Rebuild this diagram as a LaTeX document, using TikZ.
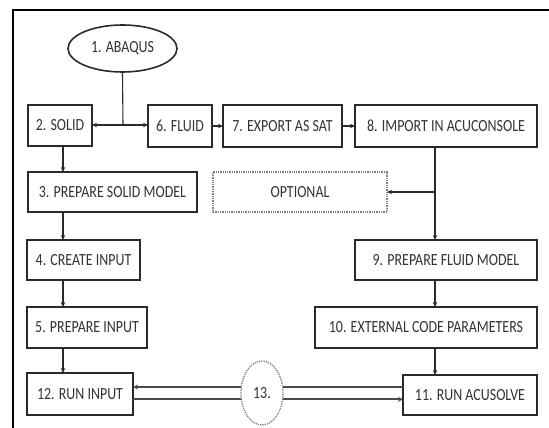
\documentclass[tikz,border=0pt]{standalone}
\usepackage{fontspec}
\setmainfont{Carlito}[FakeStretch=0.82]
\usetikzlibrary{arrows.meta,shapes.geometric}
\definecolor{ink}{HTML}{2A2A2A}
\definecolor{txt}{HTML}{333333}
\tikzset{
  box/.style={draw=ink, line width=1.7pt, rectangle, inner sep=0pt, outer sep=0pt,
    text=txt, font=\fontsize{17}{19}\selectfont},
  optbox/.style={box, draw=gray, line width=1.3pt, densely dotted},
  oval/.style={draw=ink, line width=1.6pt, ellipse, inner sep=0pt, outer sep=0pt,
    text=txt, font=\fontsize{17}{19}\selectfont},
  dotoval/.style={oval, draw=gray, line width=1.3pt, densely dotted},
  conn/.style={draw=ink, line width=1.1pt},
  arr/.style={conn, -{Stealth[length=5pt,width=4.5pt]}},
  dbl/.style={draw=ink!85, line width=1.6pt},
  dblarr/.style={dbl, -{Stealth[length=5pt,width=5pt]}},
}
\begin{document}
\begin{tikzpicture}[x=1pt,y=-1pt]
\useasboundingbox (0,0) rectangle (549,428);
% frame
\draw[black, line width=1.1pt] (13,428) -- (13,10) -- (549,10);

\node[oval, minimum width=109, minimum height=47] (c1) at (122.5,48.5) {1. ABAQUS};

\node[box, minimum width=64, minimum height=41] (b2) at (60,125.5) {2. SOLID};
\node[box, minimum width=64, minimum height=42] (b6) at (180,126) {6. FLUID};
\node[box, minimum width=119, minimum height=42] (b7) at (282.5,126) {7. EXPORT AS SAT};
\node[box, minimum width=182, minimum height=42] (b8) at (446,126) {8. IMPORT IN ACUCONSOLE};

\node[box, minimum width=169, minimum height=40] (b3) at (112.5,192) {3. PREPARE SOLID MODEL};
\node[optbox, minimum width=174, minimum height=40] (opt) at (300,192) {OPTIONAL};

\node[box, minimum width=113, minimum height=40] (b4) at (83.5,260) {4. CREATE INPUT};
\node[box, minimum width=120, minimum height=41] (b5) at (87,327.5) {5. PREPARE INPUT};
\node[box, minimum width=106, minimum height=42] (b12) at (80,394) {12. RUN INPUT};

\node[box, minimum width=182, minimum height=40] (b9) at (446,260) {9. PREPARE FLUID MODEL};
\node[box, minimum width=222, minimum height=41] (b10) at (426,327.5) {10. EXTERNAL CODE PARAMETERS};
\node[box, minimum width=134, minimum height=40] (b11) at (470,395) {11. RUN ACUSOLVE};

\node[dotoval, minimum width=42, minimum height=64] (c13) at (262,393) {13.};

% helper coordinates
\coordinate (j) at (123,125);
\coordinate (lx) at (63,0);
\coordinate (rx) at (435,0);

% top connections
\draw[conn] (c1.south) -- (j);
\draw[arr] (j) -- (j -| b2.east);
\draw[arr] (j) -- (j -| b6.west);
\draw[arr] (b6.east) -- (b7.west);
\draw[arr] (b7.east) -- (b8.west);

% left column
\draw[arr] (b2.south -| lx) -- (b3.north -| lx);
\draw[arr] (b3.south -| lx) -- (b4.north -| lx);
\draw[arr] (b4.south -| lx) -- (b5.north -| lx);
\draw[arr] (b5.south -| lx) -- (b12.north -| lx);

% right column
\draw[arr] (b8.south -| rx) -- (b9.north -| rx);
\draw[arr] (rx |- opt.east) -- (opt.east);
\draw[arr] (b9.south -| rx) -- (b10.north -| rx);
\draw[arr] (b10.south -| rx) -- (b11.north -| rx);

% double links via 13
\draw[dblarr] (c13.164) -- (c13.164 -| b12.east);
\draw[dbl] (c13.197) -- (c13.197 -| b12.east);
\draw[dbl] (c13.16) -- (c13.16 -| b11.west);
\draw[dblarr] (c13.343) -- (c13.343 -| b11.west);
\end{tikzpicture}
\end{document}
